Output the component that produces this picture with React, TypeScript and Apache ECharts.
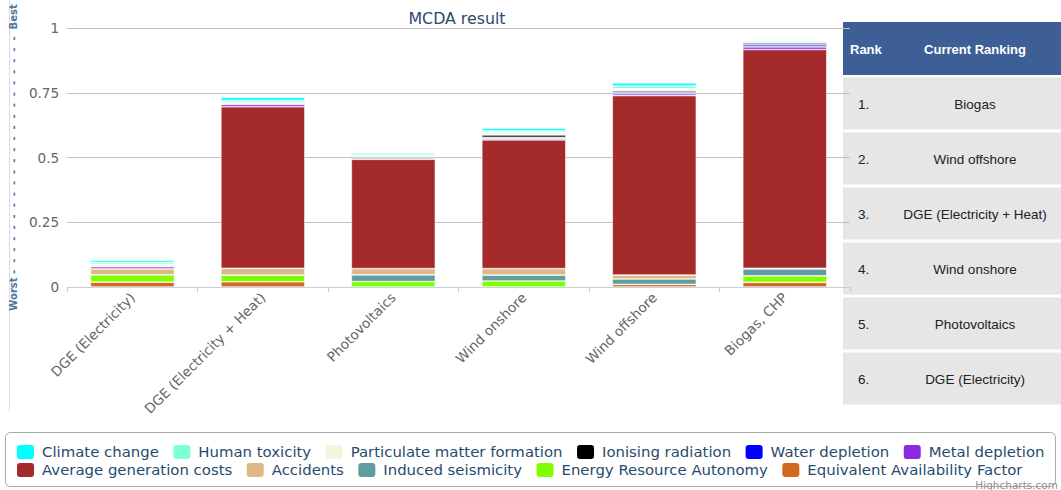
import React, { useEffect, useRef } from "react";
import * as echarts from "echarts";

const categories = [
  "DGE (Electricity)",
  "DGE (Electricity + Heat)",
  "Photovoltaics",
  "Wind onshore",
  "Wind offshore",
  "Biogas, CHP",
];

const climateChange = [0.008, 0.012, 0.007, 0.010, 0.012, 0.002];
const humanToxicity = [0.007, 0.007, 0.004, 0.006, 0.010, 0.006];
const particulateMatter = [0.010, 0.008, 0.005, 0.010, 0.009, 0.002];
const ionisingRadiation = [0, 0, 0.005, 0.009, 0.006, 0.007];
const waterDepletion = [0, 0, 0, 0.004, 0.005, 0.008];
const metalDepletion = [0.008, 0.009, 0.003, 0.006, 0.007, 0.010];
const avgGenerationCosts = [0, 0.624, 0.422, 0.497, 0.693, 0.845];
const accidents = [0.023, 0.026, 0.024, 0.025, 0.015, 0.002];
const inducedSeismicity = [0, 0, 0.026, 0.023, 0.021, 0.027];
const energyResourceAutonomy = [0.028, 0.026, 0.021, 0.023, 0, 0.025];
const equivalentAvailability = [0.019, 0.02, 0, 0, 0.01, 0.018];

const seriesNames = [
  "Climate change",
  "Human toxicity",
  "Particulate matter formation",
  "Ionising radiation",
  "Water depletion",
  "Metal depletion",
  "Average generation costs",
  "Accidents",
  "Induced seismicity",
  "Energy Resource Autonomy",
  "Equivalent Availability Factor",
];
const seriesColors = [
  "#00FFFF",
  "#7FFFD4",
  "#F5F5DC",
  "#000000",
  "#0000FF",
  "#8A2BE2",
  "#A52A2A",
  "#DEB887",
  "#5F9EA0",
  "#7FFF00",
  "#D2691E",
];
const seriesValues = [
  climateChange,
  humanToxicity,
  particulateMatter,
  ionisingRadiation,
  waterDepletion,
  metalDepletion,
  avgGenerationCosts,
  accidents,
  inducedSeismicity,
  energyResourceAutonomy,
  equivalentAvailability,
];

const rankLabels = ["1.", "2.", "3.", "4.", "5.", "6."];
const rankNames = [
  "Biogas",
  "Wind offshore",
  "DGE (Electricity + Heat)",
  "Wind onshore",
  "Photovoltaics",
  "DGE (Electricity)",
];

const yAxisTitle =
  "Worst " + Array(22).fill("-\u00A0\u00A0").join("") + "Best";

const FONT = "DejaVu Sans";

export default function App() {
  const ref = useRef<HTMLDivElement>(null);
  useEffect(() => {
    document.body.style.margin = "0";
    const chart = echarts.init(ref.current!, null, { renderer: "svg" });

    // stacked bottom-up: last legend item at bottom
    const series: any[] = [];
    for (let i = seriesNames.length - 1; i >= 0; i--) {
      series.push({
        name: seriesNames[i],
        type: "bar",
        stack: "total",
        barWidth: 84,
        color: seriesColors[i],
        itemStyle: { borderColor: "#ffffff", borderWidth: 0.6 },
        data: seriesValues[i].map((v) => (v === 0 ? "-" : v)),
      });
    }

    const tableGraphics: any[] = [];
    tableGraphics.push({
      type: "rect",
      shape: { x: 843, y: 22, width: 218, height: 53 },
      style: { fill: "#3D5F95" },
    });
    tableGraphics.push({
      type: "text",
      x: 850,
      y: 49,
      style: {
        text: "Rank",
        fill: "#ffffff",
        font: "bold 13px 'Liberation Sans'",
        textAlign: "left",
        textVerticalAlign: "middle",
      },
    });
    tableGraphics.push({
      type: "text",
      x: 975,
      y: 49,
      style: {
        text: "Current Ranking",
        fill: "#ffffff",
        font: "bold 13px 'Liberation Sans'",
        textAlign: "center",
        textVerticalAlign: "middle",
      },
    });
    rankNames.forEach((name, i) => {
      const top = 77.5 + 55 * i;
      tableGraphics.push({
        type: "rect",
        shape: { x: 843, y: top, width: 218, height: 52 },
        style: { fill: "#E6E6E6" },
      });
      tableGraphics.push({
        type: "text",
        x: 858,
        y: top + 27,
        style: {
          text: rankLabels[i],
          fill: "#222222",
          font: "13.5px 'Liberation Sans'",
          textAlign: "left",
          textVerticalAlign: "middle",
        },
      });
      tableGraphics.push({
        type: "text",
        x: 975,
        y: top + 27,
        style: {
          text: name,
          fill: "#222222",
          font: "13.5px 'Liberation Sans'",
          textAlign: "center",
          textVerticalAlign: "middle",
        },
      });
    });

    const legendCommon = {
      orient: "horizontal",
      padding: 0,
      itemWidth: 19,
      itemHeight: 16,
      itemGap: 12.5,
      icon: "roundRect",
      selectedMode: false,
      textStyle: {
        fontFamily: FONT,
        fontSize: 14.9,
        color: "#274b6d",
        padding: [0, 0, 0, 2],
      },
    };

    chart.setOption({
      animation: false,
      title: {
        text: "MCDA result",
        left: 452,
        top: 5,
        textAlign: "center",
        textStyle: {
          fontFamily: FONT,
          fontSize: 15.8,
          fontWeight: "normal",
          color: "#274b6d",
        },
      },
      grid: { left: 60, right: 211, top: 28, bottom: 203, containLabel: false },
      legend: [
        {
          ...legendCommon,
          left: 15,
          top: 443,
          data: seriesNames.slice(0, 6),
        },
        {
          ...legendCommon,
          left: 15,
          top: 461,
          data: seriesNames.slice(6),
        },
      ],
      xAxis: {
        type: "category",
        data: categories,
        axisLine: { lineStyle: { color: "#C0D0E0" } },
        axisTick: { show: true, length: 5, lineStyle: { color: "#C0D0E0" } },
        axisLabel: {
          rotate: 45,
          margin: 8,
          color: "#666666",
          fontFamily: FONT,
          fontSize: 13.6,
          interval: 0,
        },
      },
      yAxis: {
        type: "value",
        min: 0,
        max: 1,
        interval: 0.25,
        name: yAxisTitle,
        nameLocation: "middle",
        nameRotate: 90,
        nameGap: 38,
        nameTextStyle: {
          fontFamily: FONT,
          fontSize: 10,
          fontWeight: "bold",
          color: "#4d759e",
        },
        axisLine: { show: false },
        axisTick: { show: false },
        splitLine: { lineStyle: { color: "#C0C0C0" } },
        axisLabel: {
          margin: 8,
          color: "#666666",
          fontFamily: FONT,
          fontSize: 13.6,
        },
      },
      series,
      graphic: [
        {
          type: "line",
          shape: { x1: 9.5, y1: 0, x2: 9.5, y2: 411 },
          style: { stroke: "#D5DEE8", lineWidth: 1 },
        },
        ...tableGraphics,
        {
          type: "rect",
          shape: { x: 5.5, y: 432.5, width: 1050, height: 54, r: 5 },
          style: { fill: "none", stroke: "#A8A8A8", lineWidth: 1 },
        },
        {
          type: "text",
          x: 1058,
          y: 484.5,
          style: {
            text: "Highcharts.com",
            fill: "#909090",
            font: "10.5px 'DejaVu Sans'",
            textAlign: "right",
            textVerticalAlign: "middle",
          },
        },
      ],
    });
    return () => chart.dispose();
  }, []);
  return <div ref={ref} style={{ width: 1061, height: 490 }} />;
}
